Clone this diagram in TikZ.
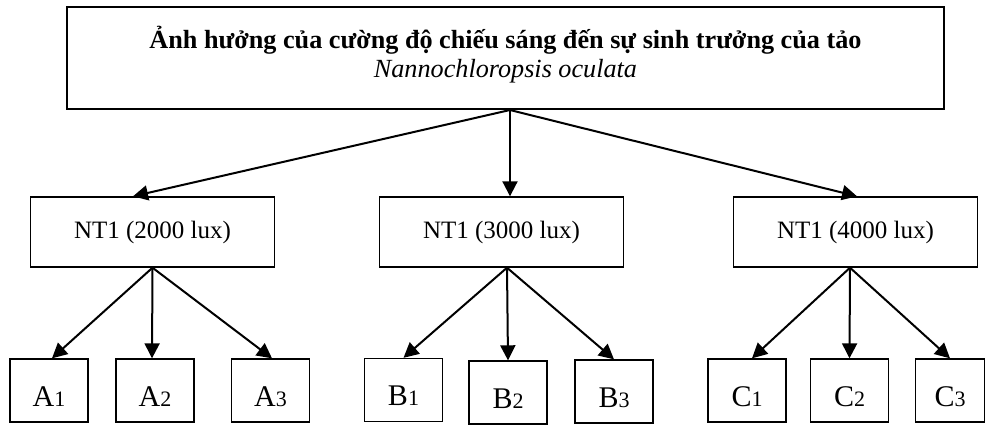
\documentclass[tikz,border=0pt]{standalone}
\usepackage{fontspec}
\setmainfont{Liberation Serif}
\usetikzlibrary{arrows.meta}
\newcommand{\lidx}[2]{#1{\fontsize{11}{11}\selectfont #2}}
\begin{document}
\begin{tikzpicture}[x=0.5pt, y=-0.5pt, >={Triangle[length=7.5pt,width=7.5pt]},
    box/.style={draw, line width=0.7pt, inner sep=0pt, font=\fontsize{12.5}{15}\selectfont},
    group/.style={box, minimum width=122pt, minimum height=35pt},
    leaf/.style={box, minimum width=39pt, minimum height=31.5pt, font=\fontsize{15}{15}\selectfont,
      text height=15.5pt, text depth=0pt},
    link/.style={->, line width=1pt}]
  \useasboundingbox (0,0) rectangle (985,424);
  \node [box, line width=1pt, minimum width=438.5pt, minimum height=51pt] (top) at (505.5,58) {};
  \node [align=center, inner sep=0pt, font=\fontsize{13.1}{14.5}\selectfont] (title) at (505.5,55)
    {\textbf{Ảnh hưởng của cường độ chiếu sáng đến sự sinh trưởng của tảo}\\\textit{Nannochloropsis oculata}};
  \node [group] (m1) at (152.5,232) {NT1 (2000 lux)};
  \node [group] (m2) at (501.5,232) {NT1 (3000 lux)};
  \node [group] (m3) at (855.5,232) {NT1 (4000 lux)};
  \node [leaf] (a1) at (49,390.5) {\lidx{A}{1}};
  \node [leaf] (a2) at (155,390.5) {\lidx{A}{2}};
  \node [leaf] (a3) at (270.5,390.5) {\lidx{A}{3}};
  \node [leaf] (b1) at (403.5,390) {\lidx{B}{1}};
  \node [leaf] (b2) at (508,392.5) {\lidx{B}{2}};
  \node [leaf] (b3) at (614,391.5) {\lidx{B}{3}};
  \node [leaf] (c1) at (747,390.5) {\lidx{C}{1}};
  \node [leaf] (c2) at (849.5,390.5) {\lidx{C}{2}};
  \node [leaf, minimum width=34.5pt] (c3) at (950,390.5) {\lidx{C}{3}};
  \draw [link] ([xshift=2.25pt]top.south) -- ([xshift=-9.75pt]m1.north);
  \draw [link] ([xshift=2.25pt]top.south) -- ([xshift=4.25pt]m2.north);
  \draw [link] ([xshift=2.25pt]top.south) -- ([xshift=0.75pt]m3.north);
  \draw [link] (m1.south) -- ([xshift=1.5pt]a1.north);
  \draw [link] (m1.south) -- ([xshift=-1.5pt]a2.north);
  \draw [link] (m1.south) -- ([xshift=0.75pt]a3.north);
  \draw [link] ([xshift=2.75pt]m2.south) -- (b1.north);
  \draw [link] ([xshift=2.75pt]m2.south) -- (b2.north);
  \draw [link] ([xshift=2.75pt]m2.south) -- (b3.north);
  \draw [link] ([xshift=-2.75pt]m3.south) -- ([xshift=2.5pt]c1.north);
  \draw [link] ([xshift=-2.75pt]m3.south) -- (c2.north);
  \draw [link] ([xshift=-2.75pt]m3.south) -- (c3.north);
\end{tikzpicture}
\end{document}
